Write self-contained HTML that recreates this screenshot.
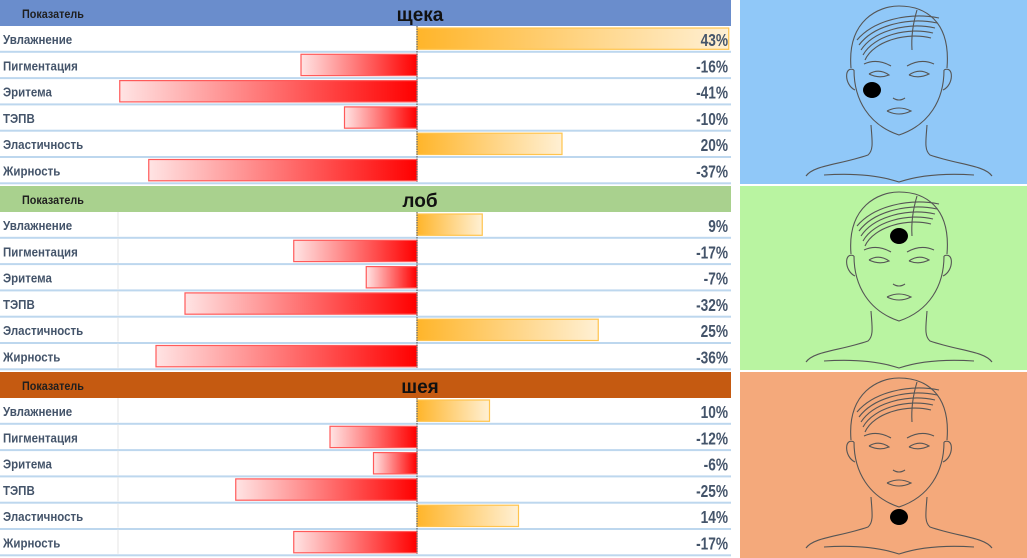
<!DOCTYPE html>
<html><head><meta charset="utf-8">
<style>
body{margin:0;width:1027px;height:558px;background:#fff;overflow:hidden;font-family:"Liberation Sans",sans-serif;}
svg{display:block}
</style></head>
<body>
<svg id="chart" width="1027" height="558">
<defs>
<linearGradient id="gRed" x1="0" x2="1"><stop offset="0" stop-color="#ffe4e4"/><stop offset="1" stop-color="#ff0000"/></linearGradient>
<linearGradient id="gOr" x1="0" x2="1"><stop offset="0" stop-color="#ffb52a"/><stop offset="1" stop-color="#fff0d4"/></linearGradient>
</defs>
<g id="tables"></g>
<g id="faces"></g>
</svg>
<script>
const sections = ["щека","лоб","шея"];
const categories = ["Увлажнение","Пигментация","Эритема","ТЭПВ","Эластичность","Жирность"];
const valuesCheek = [43,-16,-41,-10,20,-37];
const valuesForehead = [9,-17,-7,-32,25,-36];
const valuesNeck = [10,-12,-6,-25,14,-17];
const allValues = [valuesCheek, valuesForehead, valuesNeck];
const headerColors = ["#6a8dcc","#a9d18e","#c55a11"];
const panelColors = ["#90c8f8","#b9f4a1","#f4a97b"];
const dotPos = [[872,90],[899,236],[899,517]];

const NS="http://www.w3.org/2000/svg";
const tables=document.getElementById('tables');
const faces=document.getElementById('faces');
function mk(tag,attrs,parent){const e=document.createElementNS(NS,tag);for(const k in attrs)e.setAttribute(k,attrs[k]);parent.appendChild(e);return e;}
const zeroX=417, pxPer=7.25;
function xScale(v){return zeroX+v*pxPer;}
const secTop=[0,186,372], headH=26, rowH=26.3;

sections.forEach((name,s)=>{
  const g=mk('g',{},tables);
  
  
  const y0=secTop[s];
  const h=mk('rect',{x:0,y:y0,width:731,height:headH,fill:headerColors[s]},g);
  
  
  const t1=mk('text',{x:22,y:y0+18,'font-size':12,'font-weight':'bold',fill:'#1f1f1f',transform:`translate(22,0) scale(0.9,1) translate(-22,0)`},g);
  t1.textContent='Показатель';
  
  
  const t2=mk('text',{x:420,y:y0+21,'font-size':19,'font-weight':'bold',fill:'#111','text-anchor':'middle'},g);
  t2.textContent=name;
  
  
  const vals=allValues[s];
  categories.forEach((c,i)=>{
    const ry=y0+headH+i*rowH;
    const sep=mk('rect',{x:0,y:ry+rowH-1.5,width:731,height:2,fill:'#bdd7ee'},g);
    
    
    if(s>0){mk('line',{x1:118,x2:118,y1:ry,y2:ry+rowH-2,stroke:'#e4e4e4'},g);}
    const v=vals[i];
    const x=Math.min(xScale(v),zeroX), w=Math.abs(xScale(v)-zeroX);
    const b=mk('rect',{x:x,y:ry+2,width:w,height:rowH-5,fill:v<0?'url(#gRed)':'url(#gOr)',stroke:v<0?'#ff5a5a':'#ffc44d','stroke-width':1.2},g);
    
    
    const lb=mk('text',{x:3,y:ry+18,'font-size':12.5,'font-weight':'bold',fill:'#44546a',transform:`translate(3,0) scale(0.92,1) translate(-3,0)`},g);
    lb.textContent=c;
    
    
    const vt=mk('text',{x:728,y:ry+20,'font-size':18,'font-weight':'bold',fill:'#44546a','text-anchor':'end',transform:`translate(728,0) scale(0.76,1) translate(-728,0)`},g);
    vt.textContent=v+'%';
    
    
  });
  const zl=mk('line',{x1:zeroX,x2:zeroX,y1:y0+headH,y2:y0+headH+6*rowH-2,stroke:'#666','stroke-dasharray':'1.5,1','stroke-width':1.2},g);
  
  

  const fg=mk('g',{},faces);
  
  
  const py=secTop[s], ph=184;
  mk('rect',{x:740,y:py,width:287,height:s==2?186:ph,fill:panelColors[s]},fg);
  const L='#555';
  const st={fill:'none',stroke:L,'stroke-width':1.1};
  const cx=899, top=py;
  const P=(d)=>mk('path',Object.assign({d:d},st),fg);
  P(`M${cx-48},${top+68} C${cx-52},${top+20} ${cx-20},${top+6} ${cx},${top+6} C${cx+25},${top+6} ${cx+52},${top+20} ${cx+48},${top+68}`);
  for(let k=0;k<5;k++)P(`M${cx-42+k*2},${top+40+k*5} C${cx-25},${top+20+k*5} ${cx+10},${top+12+k*5} ${cx+40-k*2},${top+18+k*5}`);
  P(`M${cx+18},${top+10} C${cx+15},${top+20} ${cx+12},${top+35} ${cx+13},${top+50}`);
  P(`M${cx-45},${top+70} C${cx-45},${top+100} ${cx-30},${top+125} ${cx},${top+135} C${cx+30},${top+125} ${cx+45},${top+100} ${cx+45},${top+70}`);
  P(`M${cx-45},${top+70} C${cx-55},${top+65} ${cx-55},${top+85} ${cx-44},${top+90}`);
  P(`M${cx+45},${top+70} C${cx+55},${top+65} ${cx+55},${top+85} ${cx+44},${top+90}`);
  P(`M${cx-35},${top+64} Q${cx-22},${top+58} ${cx-8},${top+66}`);
  P(`M${cx+8},${top+66} Q${cx+22},${top+58} ${cx+35},${top+64}`);
  P(`M${cx-30},${top+74} Q${cx-20},${top+68} ${cx-10},${top+75} Q${cx-20},${top+79} ${cx-30},${top+74}`);
  P(`M${cx+10},${top+75} Q${cx+20},${top+68} ${cx+30},${top+74} Q${cx+20},${top+79} ${cx+10},${top+75}`);
  P(`M${cx-6},${top+98} Q${cx},${top+102} ${cx+6},${top+98}`);
  P(`M${cx-12},${top+111} Q${cx},${top+105} ${cx+12},${top+111} Q${cx},${top+117} ${cx-12},${top+111}`);
  P(`M${cx-28},${top+125} C${cx-27},${top+140} ${cx-25},${top+150} ${cx-31},${top+155} C${cx-60},${top+165} ${cx-85},${top+165} ${cx-93},${top+176}`);
  P(`M${cx+28},${top+125} C${cx+27},${top+140} ${cx+25},${top+150} ${cx+31},${top+155} C${cx+60},${top+165} ${cx+85},${top+165} ${cx+93},${top+176}`);
  P(`M${cx-75},${top+175} Q${cx-30},${top+172} ${cx},${top+182} Q${cx+30},${top+172} ${cx+75},${top+175}`);
  const d=mk('ellipse',{cx:dotPos[s][0],cy:dotPos[s][1],rx:9,ry:8,fill:'#000'},fg);
  
  
});
</script>
</body></html>
